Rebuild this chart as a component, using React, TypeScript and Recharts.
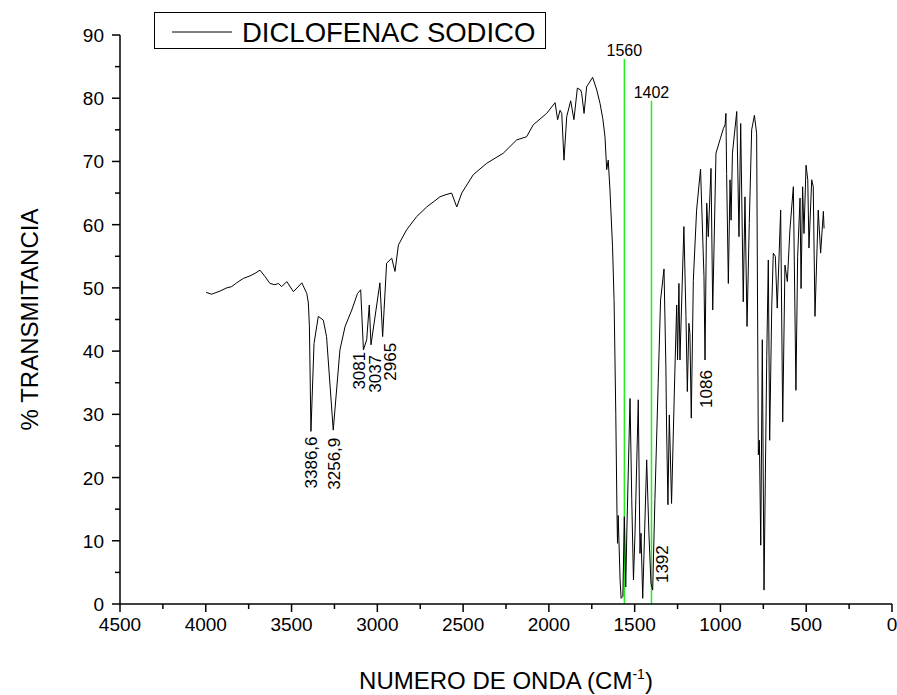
import React from 'react';
import { ComposedChart, Line, XAxis, YAxis, Scatter } from 'recharts';

// Spectrum (wavenumber in cm-1, % transmittance)
const wavenumbers = [
  3998, 3966, 3917, 3878, 3849, 3820, 3781, 3742, 3713, 3684, 3655, 3626, 3597, 3577, 3557, 3528,
  3489, 3440, 3411, 3402, 3396, 3387, 3369, 3344, 3315, 3296, 3257, 3218, 3188, 3149, 3116, 3097,
  3081, 3062, 3047, 3037, 2985, 2969, 2946, 2916, 2897, 2877, 2829, 2770, 2712, 2635, 2606, 2567,
  2537, 2508, 2441, 2363, 2266, 2188, 2130, 2091, 2013, 1964, 1949, 1935, 1925, 1912, 1896, 1873,
  1854, 1834, 1815, 1809, 1795, 1780, 1745, 1721, 1702, 1686, 1673, 1663, 1654, 1644, 1629, 1620,
  1610, 1603, 1600, 1596, 1585, 1579, 1569, 1560, 1552, 1545, 1527, 1517, 1507, 1498, 1479, 1469,
  1463, 1453, 1430, 1417, 1405, 1395, 1382, 1363, 1349, 1329, 1318, 1314, 1306, 1298, 1285, 1265,
  1255, 1250, 1242, 1236, 1213, 1201, 1193, 1184, 1178, 1170, 1158, 1139, 1116, 1096, 1090, 1080,
  1071, 1055, 1045, 1026, 1003, 983, 973, 968, 964, 954, 944, 938, 930, 905, 892, 882,
  867, 857, 845, 832, 818, 802, 789, 779, 773, 765, 756, 746, 730, 721, 713, 701,
  692, 680, 669, 649, 637, 624, 610, 595, 575, 560, 550, 536, 530, 521, 513, 501,
  491, 484, 468, 459, 449, 430, 416, 400, 396,
];
const transmittance = [
  49.3, 49.0, 49.5, 50.0, 50.2, 50.8, 51.5, 51.9, 52.3, 52.8, 51.8, 50.7, 50.5, 50.7, 50.2, 51.0,
  49.4, 50.8, 49.1, 47.6, 44.0, 27.3, 41.2, 45.5, 44.9, 42.3, 27.5, 40.2, 43.9, 46.5, 49.1, 49.7,
  40.2, 41.8, 47.3, 41.0, 50.8, 42.3, 53.9, 54.7, 52.6, 56.8, 59.2, 61.3, 62.8, 64.4, 64.7, 65.0,
  62.8, 65.0, 67.9, 69.7, 71.3, 73.4, 73.9, 75.8, 77.6, 79.3, 76.6, 78.1, 77.6, 70.2, 77.1, 79.6,
  76.6, 81.6, 81.3, 80.8, 77.6, 81.8, 83.3, 81.3, 79.2, 76.8, 73.9, 68.7, 70.2, 65.5, 56.5, 48.0,
  30.0, 14.3, 9.6, 14.0, 3.8, 0.9, 1.2, 13.8, 2.7, 12.2, 32.5, 16.5, 3.8, 11.2, 32.3, 8.0,
  11.2, 0.9, 22.8, 11.2, 3.3, 2.2, 16.5, 34.9, 48.1, 53.0, 37.5, 28.0, 15.7, 29.9, 15.9, 37.5,
  47.3, 38.6, 50.7, 38.6, 59.7, 45.5, 33.6, 44.4, 42.8, 29.4, 51.2, 62.3, 68.8, 51.8, 38.6, 63.4,
  58.1, 68.9, 46.5, 71.3, 73.4, 75.2, 75.8, 77.6, 68.1, 50.7, 67.1, 60.7, 71.3, 77.9, 58.1, 76.0,
  47.8, 64.4, 43.9, 60.2, 75.0, 77.3, 74.4, 23.6, 25.9, 9.3, 41.8, 2.2, 39.1, 54.4, 25.9, 47.0,
  55.5, 55.0, 46.8, 62.3, 28.8, 53.6, 51.0, 59.2, 66.0, 33.8, 55.0, 64.2, 49.9, 66.0, 58.6, 69.4,
  67.1, 56.3, 67.1, 66.0, 45.5, 62.3, 55.5, 62.1, 59.4,
];

// Peak annotations (text end position)
const peakTexts = ['3386,6', '3256,9', '3081', '3037', '2965', '1392', '1086'];
const peakTextW = [3387, 3253, 3107, 3016, 2929, 1341, 1085];
const peakTextT = [26.5, 26.3, 39.9, 39.4, 41.3, 9.3, 37.0];

// Green marker lines
const markerW = [1560, 1402];
const markerTop = [86.2, 79.6];

const xTicks = [0, 250, 500, 750, 1000, 1250, 1500, 1750, 2000, 2250, 2500, 2750, 3000, 3250, 3500, 3750, 4000, 4250, 4500];
const yTicks = [0, 5, 10, 15, 20, 25, 30, 35, 40, 45, 50, 55, 60, 65, 70, 75, 80, 85, 90];

const seriesName = 'DICLOFENAC SODICO';

const FONT = '"Liberation Sans", Arial, Helvetica, sans-serif';

const spectrum = wavenumbers.map((w, i) => ({ w, t: transmittance[i] }));
const peakData = peakTexts.map((label, i) => ({ w: peakTextW[i], t: peakTextT[i], label }));
const markerLines = markerW.map((w, i) => [
  { w, t: 0 },
  { w, t: markerTop[i] },
]);
const markerLabels = markerW.map((w, i) => ({ w, t: markerTop[i], label: String(w) }));

const XTick = (props: any) => {
  const { x, y, payload } = props;
  const major = payload.value % 500 === 0;
  return (
    <g>
      <line x1={x} x2={x} y1={y} y2={y + (major ? 8 : 5)} stroke="#000" strokeWidth={1.5} />
      {major && (
        <text x={x} y={y + 27} textAnchor="middle" fontSize={19} fontFamily={FONT} fill="#000">
          {payload.value}
        </text>
      )}
    </g>
  );
};

const YTick = (props: any) => {
  const { x, y, payload } = props;
  const major = payload.value % 10 === 0;
  return (
    <g>
      <line x1={x - (major ? 8 : 5)} x2={x} y1={y} y2={y} stroke="#000" strokeWidth={1.5} />
      {major && (
        <text x={x - 16} y={y + 7} textAnchor="end" fontSize={19} fontFamily={FONT} fill="#000">
          {payload.value}
        </text>
      )}
    </g>
  );
};

const XTitle = (props: any) => {
  const vb = props.viewBox;
  const cx = vb.x + vb.width / 2;
  return (
    <text x={cx} y={vb.y + 85} textAnchor="middle" fontSize={24} fontFamily={FONT} fill="#000">
      NUMERO DE ONDA (CM
      <tspan dy={-10} fontSize={14}>-1</tspan>
      <tspan dy={10}>)</tspan>
    </text>
  );
};

const YTitle = (props: any) => {
  const vb = props.viewBox;
  const cy = vb.y + vb.height / 2;
  const x = 38;
  return (
    <text
      x={x}
      y={cy}
      transform={`rotate(-90, ${x}, ${cy})`}
      textAnchor="middle"
      fontSize={24}
      fontFamily={FONT}
      fill="#000"
    >
      % TRANSMITANCIA
    </text>
  );
};

const PeakText = (props: any) => {
  const { cx, cy, payload } = props;
  return (
    <text
      x={cx}
      y={cy}
      dy="0.36em"
      transform={`rotate(-90, ${cx}, ${cy})`}
      textAnchor="end"
      fontSize={17}
      fontFamily={FONT}
      fill="#000"
    >
      {payload.label}
    </text>
  );
};

const MarkerText = (props: any) => {
  const { cx, cy, payload } = props;
  return (
    <text x={cx} y={cy - 3} textAnchor="middle" fontSize={16} fontFamily={FONT} fill="#000">
      {payload.label}
    </text>
  );
};

export default function App() {
  return (
    <div style={{ position: 'absolute', left: 0, top: 0, width: 897, height: 695, overflow: 'hidden', background: '#fff' }}>
      <ComposedChart
        width={897}
        height={695}
        margin={{ top: 35, right: 5, left: 60, bottom: 31 }}
      >
        <XAxis
          dataKey="w"
          type="number"
          domain={[0, 4500]}
          reversed
          ticks={xTicks}
          interval={0}
          tickSize={0}
          tickMargin={0}
          tickLine={false}
          tick={<XTick />}
          axisLine={{ stroke: '#000', strokeWidth: 1.5 }}
          height={60}
          allowDataOverflow
          label={(p: any) => <XTitle {...p} />}
        />
        <YAxis
          dataKey="t"
          type="number"
          domain={[0, 90]}
          ticks={yTicks}
          interval={0}
          tickSize={0}
          tickMargin={0}
          tickLine={false}
          tick={<YTick />}
          axisLine={{ stroke: '#000', strokeWidth: 1.5 }}
          width={60}
          allowDataOverflow
          label={(p: any) => <YTitle {...p} />}
        />
        {markerLines.map((d, i) => (
          <Line
            key={'m' + i}
            data={d}
            dataKey="t"
            stroke="#22ee22"
            strokeWidth={1.5}
            dot={false}
            activeDot={false}
            isAnimationActive={false}
            legendType="none"
          />
        ))}
        <Line
          data={spectrum}
          dataKey="t"
          name={seriesName}
          type="linear"
          stroke="#000"
          strokeWidth={1}
          dot={false}
          activeDot={false}
          isAnimationActive={false}
        />
        <Scatter data={peakData} dataKey="t" shape={<PeakText />} isAnimationActive={false} />
        <Scatter data={markerLabels} dataKey="t" shape={<MarkerText />} isAnimationActive={false} />
      </ComposedChart>
      <svg
        width={897}
        height={695}
        style={{ position: 'absolute', left: 0, top: 0, pointerEvents: 'none' }}
      >
        <rect x={154.5} y={12.5} width={391} height={36} fill="#fff" stroke="#000" strokeWidth={1} />
        <line x1={172} x2={232} y1={32} y2={32} stroke="#000" strokeWidth={1} />
        <text x={242} y={42} fontSize={27.5} fontFamily={FONT} fill="#000">
          {seriesName}
        </text>
      </svg>
    </div>
  );
}
